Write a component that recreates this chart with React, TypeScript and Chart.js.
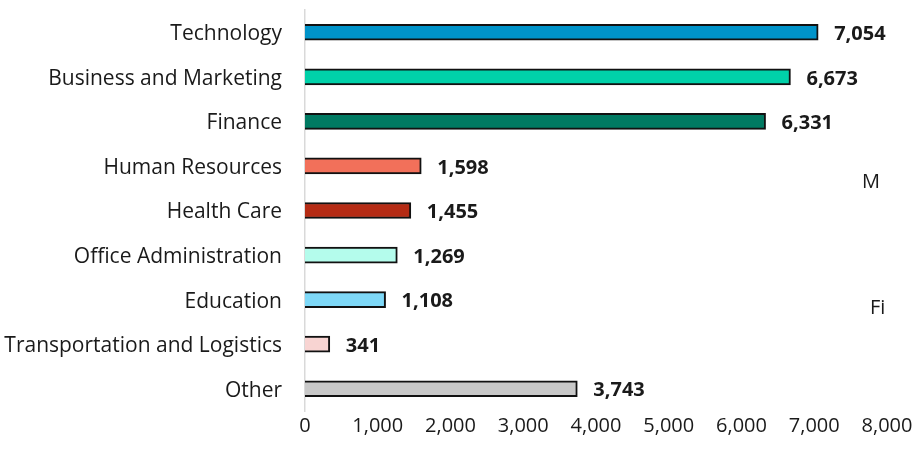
import React, { useEffect, useRef } from "react";
import { Chart, registerables } from "chart.js";

Chart.register(...registerables);

const categories = [
  "Technology",
  "Business and Marketing",
  "Finance",
  "Human Resources",
  "Health Care",
  "Office Administration",
  "Education",
  "Transportation and Logistics",
  "Other",
];
const values = [7054, 6673, 6331, 1598, 1455, 1269, 1108, 341, 3743];
const barColors = [
  "#0093C9",
  "#00D1A9",
  "#007A62",
  "#F2705A",
  "#B52B14",
  "#B4FCEC",
  "#7ED8F7",
  "#F8D4D2",
  "#C8C8C8",
];
const xTicksMax = 8000;
const xTickStep = 1000;

const FONT = "'Open Sans', sans-serif";

const valueLabels = {
  id: "valueLabels",
  afterDatasetsDraw(chart: any) {
    const ctx = chart.ctx;
    const meta = chart.getDatasetMeta(0);
    ctx.save();
    ctx.font = `bold 20px ${FONT}`;
    ctx.fillStyle = "#1a1a1a";
    ctx.textAlign = "left";
    ctx.textBaseline = "middle";
    meta.data.forEach((bar: any, i: number) => {
      const v = values[i];
      ctx.fillText(v.toLocaleString("en-US"), bar.x + 16, bar.y + 2);
    });
    ctx.restore();
  },
};

export default function App() {
  const ref = useRef<HTMLCanvasElement | null>(null);
  useEffect(() => {
    document.body.style.margin = "0";
    const chart = new Chart(ref.current as HTMLCanvasElement, {
      type: "bar",
      data: {
        labels: categories,
        datasets: [
          {
            data: values,
            backgroundColor: barColors,
            borderColor: "#111111",
            borderWidth: 2,
            barThickness: 16,
          },
        ],
      },
      options: {
        indexAxis: "y",
        animation: false,
        responsive: false,
        layout: { padding: { left: 0, right: 30, top: 10, bottom: 14 } },
        plugins: { legend: { display: false }, tooltip: { enabled: false } },
        scales: {
          x: {
            min: 0,
            max: xTicksMax,
            ticks: {
              stepSize: xTickStep,
              color: "#1a1a1a",
              font: { family: FONT, size: 20 },
              padding: 3,
              maxRotation: 0,
            },
            grid: { display: false, drawTicks: false },
            border: { display: false },
          },
          y: {
            ticks: {
              color: "#1a1a1a",
              font: { family: FONT, size: 21 },
              padding: 23,
              labelOffset: 2,
            },
            grid: { display: false, drawTicks: false },
            border: { display: true, color: "#d9d9d9", width: 1.5 },
            afterFit: (scale: any) => {
              scale.width = 305;
              scale.paddingTop = 0;
              scale.paddingBottom = 0;
            },
          },
        },
      },
      plugins: [valueLabels],
    });
    return () => chart.destroy();
  }, []);
  return (
    <div style={{ position: "fixed", left: 0, top: 0, width: 917, height: 455, background: "#fff" }}>
      <canvas ref={ref} width={917} height={455} />
      <span style={{ position: "absolute", left: 862, top: 167, font: `20px ${FONT}`, color: "#1a1a1a" }}>M</span>
      <span style={{ position: "absolute", left: 870, top: 293, font: `20px ${FONT}`, color: "#1a1a1a", whiteSpace: "nowrap" }}>Fi</span>
    </div>
  );
}
